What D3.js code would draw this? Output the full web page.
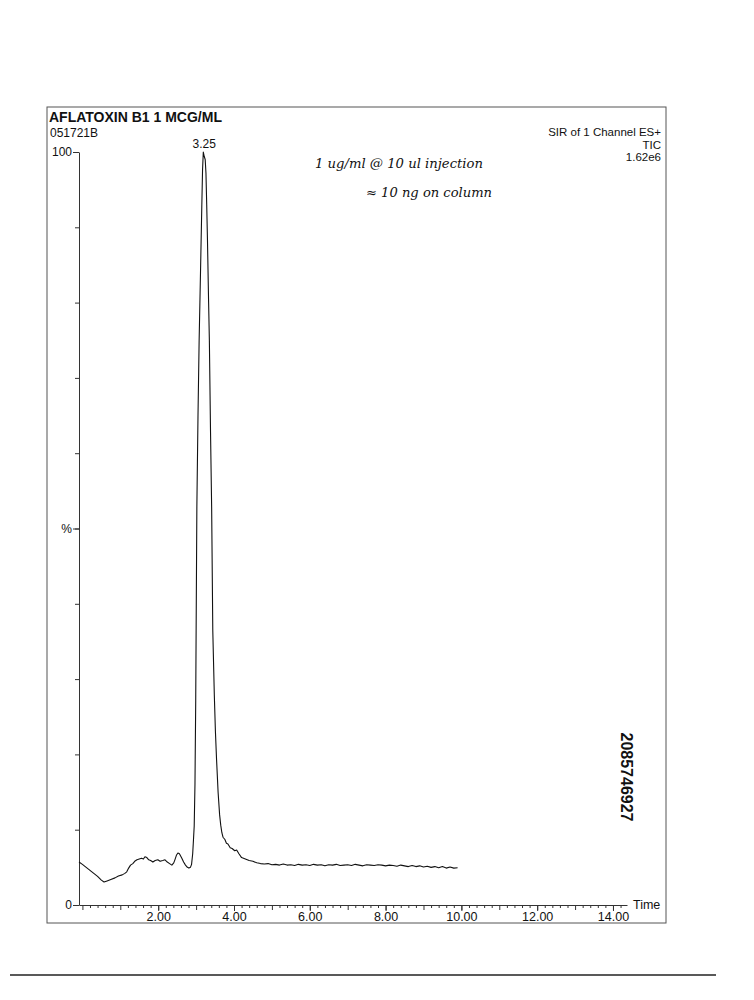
<!DOCTYPE html>
<html>
<head>
<meta charset="utf-8">
<script src="https://cdn.jsdelivr.net/npm/d3@7"></script>
<style>
  body { margin: 0; background: #fff; }
  text { font-family: "Liberation Sans", Arial, sans-serif; fill: #111; }
</style>
</head>
<body>
<div id="chart"></div>
<script>
// retention time (min) and relative intensity (%)
const rtMin = [
  -0.09, 0.0, 0.1, 0.2, 0.3, 0.4, 0.5, 0.57, 0.65, 0.75, 0.86, 0.95, 1.05, 1.12, 1.17, 1.22, 1.27,
  1.33, 1.38, 1.44, 1.50, 1.56, 1.61, 1.65, 1.70, 1.75, 1.80, 1.86, 1.92, 1.99, 2.05, 2.12, 2.18,
  2.24, 2.30, 2.36, 2.41, 2.44, 2.48, 2.52, 2.56, 2.62, 2.67, 2.72, 2.77, 2.81, 2.85, 2.88, 2.91,
  2.93, 2.95, 2.97, 2.99, 3.02, 3.05, 3.08, 3.12, 3.15, 3.17, 3.19, 3.215, 3.24, 3.26, 3.28, 3.30,
  3.33, 3.35, 3.38, 3.41, 3.44, 3.48, 3.51, 3.54, 3.58, 3.62, 3.65, 3.68, 3.71, 3.76, 3.80, 3.84,
  3.90, 3.95, 4.02, 4.07, 4.13,
  4.2, 4.3, 4.4, 4.5, 4.6, 4.7, 4.8, 4.9, 5.0, 5.1, 5.2, 5.3, 5.4, 5.5, 5.6, 5.7, 5.8, 5.9,
  6.0, 6.1, 6.2, 6.3, 6.4, 6.5, 6.6, 6.7, 6.8, 6.9, 7.0, 7.1, 7.2, 7.3, 7.4, 7.5, 7.6, 7.7, 7.8, 7.9,
  8.0, 8.1, 8.2, 8.3, 8.4, 8.5, 8.6, 8.7, 8.8, 8.9, 9.0, 9.1, 9.2, 9.3, 9.4, 9.5, 9.6, 9.7, 9.8, 9.9
];
const intensity = [
  5.7, 5.4, 5.0, 4.6, 4.2, 3.8, 3.3, 3.05, 3.2, 3.4, 3.6, 3.85, 4.0, 4.2, 4.4, 4.9, 5.3,
  5.5, 5.8, 6.0, 6.1, 6.2, 6.1, 6.4, 6.3, 6.0, 5.9, 5.7, 5.9, 6.0, 5.8, 5.9, 6.0,
  5.7, 5.5, 5.3, 5.6, 6.0, 6.6, 6.9, 6.8, 6.25, 5.7, 5.3, 5.0, 4.9, 5.0, 5.4, 6.8,
  8.6, 10.5, 16, 27.2, 52.9, 65, 75, 85, 92.7, 97.6, 100, 99.4, 99, 97.2, 93, 88.3,
  80, 75, 63, 52.9, 36.5, 28, 23, 19.3, 15, 12, 10.6, 9.6, 9.0, 8.7, 8.2, 8.1,
  7.6, 7.5, 7.2, 7.3, 6.8,
  6.3, 6.1, 5.9, 5.8, 5.6, 5.5, 5.45, 5.5, 5.35, 5.4, 5.3, 5.45, 5.3, 5.35, 5.25, 5.4, 5.3, 5.35,
  5.25, 5.4, 5.3, 5.35, 5.2, 5.35, 5.3, 5.4, 5.25, 5.3, 5.35, 5.25, 5.4, 5.3, 5.2, 5.35, 5.3, 5.25, 5.35, 5.3,
  5.2, 5.3, 5.25, 5.15, 5.3, 5.2, 5.1, 5.25, 5.1, 5.2, 5.05, 5.15, 5.0, 5.1, 4.95, 5.1, 4.9, 5.05, 4.9, 4.95
];

const xLabelTicks = [2, 4, 6, 8, 10, 12, 14];
const yLabelTicks = [0, 50, 100];
const peakLabel = "3.25";

const w = 754, h = 1000;

const x = d3.scaleLinear().domain([-0.09, 14.37]).range([79, 627]);
const y = d3.scaleLinear().domain([0, 100]).range([905, 152]);

const svg = d3.select("#chart").append("svg")
  .attr("width", w).attr("height", h);

// page frame
svg.append("rect")
  .attr("x", 47).attr("y", 107).attr("width", 619).attr("height", 816)
  .attr("fill", "none").attr("stroke", "#555").attr("stroke-width", 1);

svg.append("line")
  .attr("x1", 10).attr("x2", 716).attr("y1", 975).attr("y2", 975)
  .attr("stroke", "#222").attr("stroke-width", 1.5);

// header texts
svg.append("text").attr("x", 49).attr("y", 122)
  .style("font-weight", "bold").style("font-size", "14px")
  .text("AFLATOXIN B1 1 MCG/ML");
svg.append("text").attr("x", 50).attr("y", 137)
  .style("font-size", "12px").text("051721B");

const hdr = ["SIR of 1 Channel ES+", "TIC", "1.62e6"];
svg.selectAll(".hdr").data(hdr).enter().append("text")
  .attr("class", "hdr")
  .attr("x", 661).attr("y", (d, i) => 136 + i * 12.5)
  .style("text-anchor", "end").style("font-size", "11.5px")
  .text(d => d);

// handwritten note
svg.append("text").attr("x", 315).attr("y", 168)
  .attr("textLength", 168).attr("lengthAdjust", "spacingAndGlyphs")
  .style("font-family", "'DejaVu Serif', serif").style("font-style", "italic")
  .style("font-size", "13px")
  .text("1 ug/ml @ 10 ul injection");
svg.append("text").attr("x", 366).attr("y", 197)
  .attr("textLength", 126).attr("lengthAdjust", "spacingAndGlyphs")
  .style("font-family", "'DejaVu Serif', serif").style("font-style", "italic")
  .style("font-size", "13px")
  .text("≈ 10 ng on column");

// x axis: minor ticks every 0.2 min
const minorTicks = d3.range(0, 14.3, 0.2);
const xMinor = svg.append("g")
  .attr("transform", "translate(0," + y(0) + ")")
  .call(d3.axisBottom(x).tickValues(minorTicks)
    .tickSize(3).tickSizeOuter(0).tickFormat(""));
xMinor.selectAll("line").attr("stroke", "#333")
  .attr("y2", d => Math.abs(d - Math.round(d)) < 0.01 ? 5 : 3);
xMinor.select(".domain").attr("stroke", "#333");

const xMajor = svg.append("g")
  .attr("transform", "translate(0," + y(0) + ")")
  .call(d3.axisBottom(x).tickValues(xLabelTicks)
    .tickSize(6).tickSizeOuter(0).tickFormat(d3.format(".2f")));
xMajor.select(".domain").remove();
xMajor.selectAll("line").attr("stroke", "#333");
xMajor.selectAll("text")
  .attr("y", 15.5).attr("dy", 0)
  .style("font-size", "12.5px").style("font-family", "'Liberation Sans', Arial, sans-serif")
  .attr("fill", "#111");

svg.append("text").attr("x", 633).attr("y", 909)
  .style("font-size", "12.5px").text("Time");

// y axis
const yMinor = svg.append("g")
  .attr("transform", "translate(" + x.range()[0] + ",0)")
  .call(d3.axisLeft(y).tickValues(d3.range(0, 101, 10))
    .tickSize(4).tickSizeOuter(0).tickFormat(""));
yMinor.selectAll("line").attr("stroke", "#333");
yMinor.select(".domain").attr("stroke", "#333");

const yMajor = svg.append("g")
  .attr("transform", "translate(" + x.range()[0] + ",0)")
  .call(d3.axisLeft(y).tickValues(yLabelTicks)
    .tickSize(6).tickSizeOuter(0).tickPadding(1)
    .tickFormat(d => d === 50 ? "%" : d));
yMajor.select(".domain").remove();
yMajor.selectAll("line").attr("stroke", "#333");
yMajor.selectAll("text")
  .style("font-size", "12px").style("font-family", "'Liberation Sans', Arial, sans-serif")
  .attr("fill", "#111");

// trace
const pts = rtMin.map((t, i) => [t, intensity[i]]);
const line = d3.line().x(d => x(d[0])).y(d => y(d[1]));
svg.append("path")
  .datum(pts)
  .attr("d", line)
  .attr("fill", "none")
  .attr("stroke", "#111")
  .attr("stroke-width", 1.1)
  .attr("stroke-linejoin", "round");

// peak label at apex
const apex = pts[d3.maxIndex(pts, d => d[1])];
svg.append("text")
  .attr("x", x(apex[0]) + 1).attr("y", y(apex[1]) - 4)
  .style("text-anchor", "middle").style("font-size", "12px")
  .text(peakLabel);

// document id, rotated
svg.append("text")
  .attr("transform", "translate(621,777) rotate(90)")
  .style("text-anchor", "middle").style("font-weight", "bold").style("font-size", "16px")
  .text("2085746927");
</script>
</body>
</html>
